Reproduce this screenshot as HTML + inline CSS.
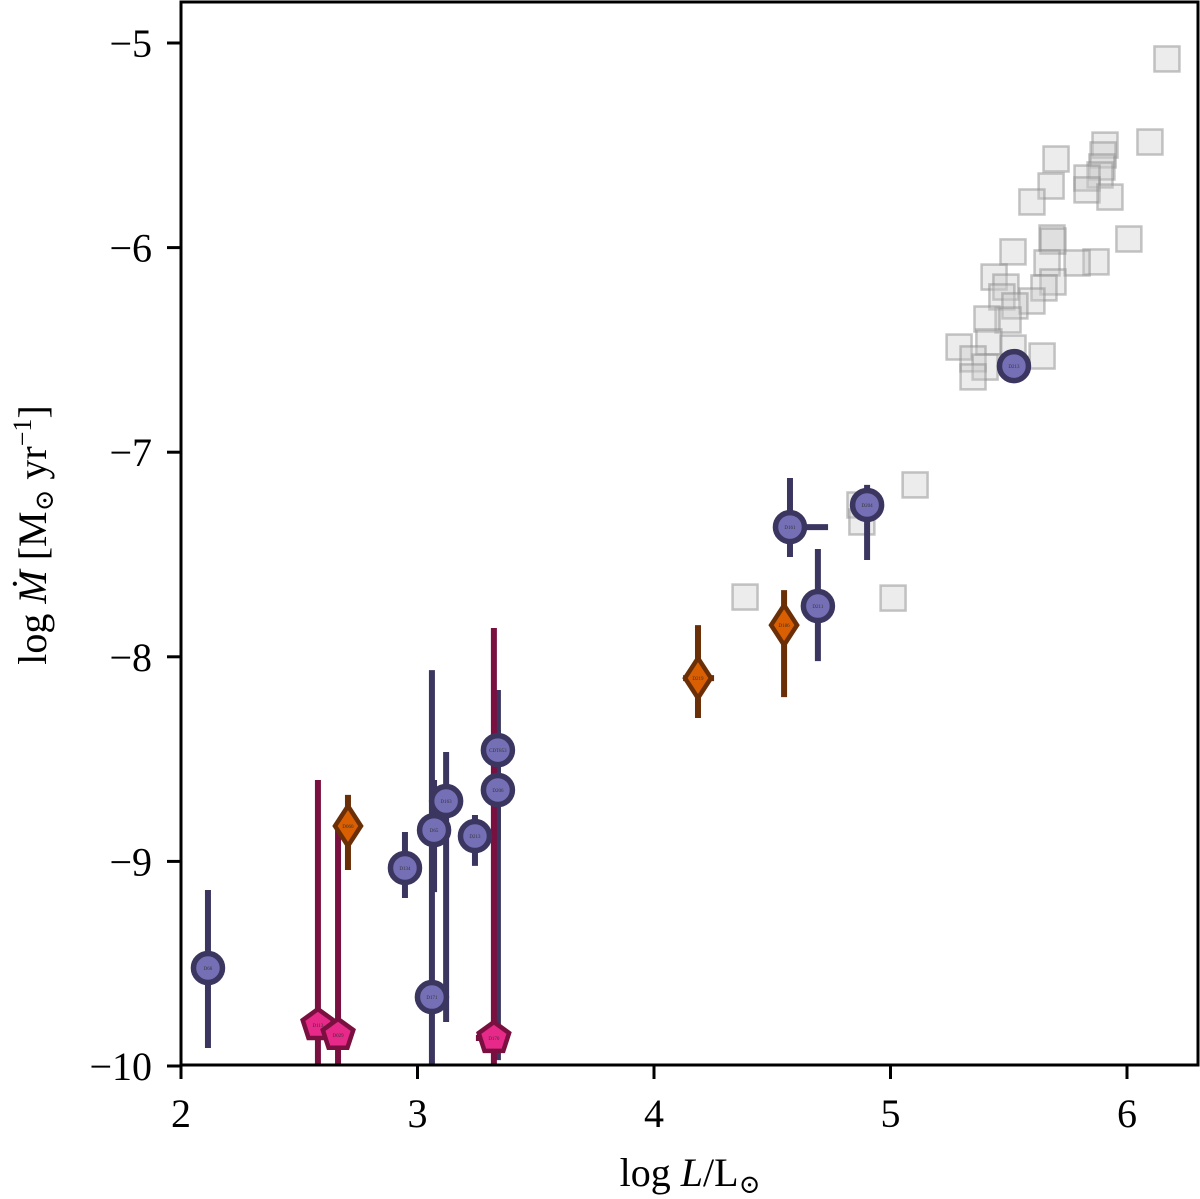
<!DOCTYPE html>
<html><head><meta charset="utf-8">
<style>
html,body{margin:0;padding:0;background:#fff;}
svg{display:block;}
text{font-family:"Liberation Serif","DejaVu Serif",serif;fill:#000;}
</style></head>
<body>
<svg id="chart" width="1200" height="1199" viewBox="0 0 1200 1199" xmlns="http://www.w3.org/2000/svg">
<g id="grid-bg"></g>
<g id="errs"></g>
<g id="marks"></g>
<rect x="181" y="2" width="1017" height="1063" fill="none" stroke="#000" stroke-width="3"/>
<g id="axes"></g>
<text x="690" y="1186" font-size="40" text-anchor="middle">log <tspan font-style="italic">L</tspan>/L<tspan font-size="26" dy="7">⊙</tspan></text>
<text transform="translate(46,535) rotate(-90)" font-size="40" text-anchor="middle">log <tspan font-style="italic">Ṁ</tspan> [M<tspan font-size="26" dy="7">⊙</tspan><tspan dy="-7"> yr</tspan><tspan font-size="26" dy="-15">−1</tspan><tspan dy="15">]</tspan></text>
</svg>
<script>
const xTicks=[2,3,4,5,6];
const yTicks=[-5,-6,-7,-8,-9,-10];
const grayX=[6.169,6.097,5.907,5.899,5.894,5.886,5.700,5.831,5.831,5.928,5.679,5.598,6.008,5.683,5.687,5.518,5.869,5.789,5.662,5.438,5.488,5.687,5.649,5.471,5.598,5.526,5.497,5.408,5.416,5.518,5.641,5.290,5.349,5.400,5.349,5.104,4.871,4.879,4.385,5.011];
const grayY=[-5.078,-5.484,-5.499,-5.547,-5.606,-5.645,-5.567,-5.660,-5.718,-5.753,-5.699,-5.777,-5.958,-5.953,-5.968,-6.021,-6.070,-6.075,-6.075,-6.144,-6.193,-6.168,-6.197,-6.241,-6.261,-6.285,-6.354,-6.349,-6.461,-6.491,-6.530,-6.486,-6.544,-6.584,-6.632,-7.160,-7.258,-7.341,-7.708,-7.713];
// circles
const circLabel=["D66","D134","D65","D163","D213","CDT853","D206","D171","D161","D204","D211","D213"];
const circX=[2.114,2.947,3.070,3.121,3.243,3.340,3.340,3.061,4.575,4.901,4.693,5.522];
const circY=[-9.521,-9.032,-8.847,-8.705,-8.876,-8.456,-8.651,-9.663,-7.366,-7.258,-7.752,-6.579];
const circYlo=[-9.912,-9.179,-9.150,-9.785,-9.022,-9.971,-8.895,-10.0,-7.512,-7.527,-8.021,-6.579];
const circYhi=[-9.140,-8.856,-8.602,-8.465,-8.773,-8.162,-8.358,-8.065,-7.126,-7.160,-7.473,-6.579];
const circXlo=[2.114,2.947,3.070,3.121,3.243,3.340,3.340,3.061,4.503,4.901,4.693,5.522];
const circXhi=[2.114,2.947,3.070,3.121,3.243,3.340,3.340,3.061,4.736,4.901,4.693,5.522];
// diamonds
const diaLabel=["D060","D219","D186"];
const diaX=[2.706,4.186,4.550];
const diaY=[-8.827,-8.104,-7.845];
const diaYlo=[-9.042,-8.299,-8.197];
const diaYhi=[-8.675,-7.845,-7.674];
const diaXlo=[2.706,4.123,4.550];
const diaXhi=[2.706,4.254,4.550];
// pentagons
const penLabel=["D113","D029","D170"];
const penX=[2.579,2.664,3.323];
const penY=[-9.800,-9.848,-9.863];
const penYlo=[-10.0,-10.0,-10.0];
const penYhi=[-8.602,-8.812,-7.859];
const penXlo=[2.579,2.664,3.247];
const penXhi=[2.579,2.706,3.370];

const X=v=>181+(v-2)*236.5;
const Y=v=>43+(-5-v)*204.6;
const NS="http://www.w3.org/2000/svg";
function mk(tag,parent,attrs){const e=document.createElementNS(NS,tag);for(const k in attrs)e.setAttribute(k,attrs[k]);parent.appendChild(e);return e;}
const axes=document.getElementById('axes');
xTicks.forEach(t=>{
  const l=mk('line',axes,{x1:X(t),x2:X(t),y1:1065,y2:1079,stroke:'#000','stroke-width':3});
  
  
  const tx=mk('text',axes,{x:X(t),y:1127,'font-size':40,'text-anchor':'middle'});
  
  
  tx.textContent=t;
});
yTicks.forEach(t=>{
  const l=mk('line',axes,{x1:167,x2:181,y1:Y(t),y2:Y(t),stroke:'#000','stroke-width':3});
  
  
  const tx=mk('text',axes,{x:152,y:Y(t)+14,'font-size':40,'text-anchor':'end'});
  
  
  tx.textContent='−'+Math.abs(t);
});
const gb=document.getElementById('grid-bg');
grayX.forEach((v,i)=>{
  const r=mk('rect',gb,{x:X(v)-12.5,y:Y(grayY[i])-12.5,width:25,height:25,fill:'rgba(200,200,200,0.35)',stroke:'rgba(140,140,140,0.5)','stroke-width':2.5});
  
  
});
const eg=document.getElementById('errs'), mg=document.getElementById('marks');
function err(x,y,xlo,xhi,ylo,yhi,col){
  if(ylo!==yhi){const l=mk('line',eg,{x1:X(x),x2:X(x),y1:Y(ylo),y2:Y(yhi),stroke:col,'stroke-width':6});
    
    }
  if(xlo!==xhi){const l=mk('line',eg,{x1:X(xlo),x2:X(xhi),y1:Y(y),y2:Y(y),stroke:col,'stroke-width':6});
    
    }
}
function lab(x,y,s){const t=mk('text',mg,{x:X(x),y:Y(y)+2,'font-size':5,'text-anchor':'middle',fill:'#333'});t.style.fill='#333';
  
  
  t.textContent=s;}
const dark='#3b3660';
circX.forEach((v,i)=>{
  err(v,circY[i],circXlo[i],circXhi[i],circYlo[i],circYhi[i],dark);
  const c=mk('circle',mg,{cx:X(v),cy:Y(circY[i]),r:14.5,fill:'#7570b6',stroke:dark,'stroke-width':5.5});
  
  
  lab(v,circY[i],circLabel[i]);
});
diaX.forEach((v,i)=>{
  err(v,diaY[i],diaXlo[i],diaXhi[i],diaYlo[i],diaYhi[i],'#6b2f08');
  const cx=X(v),cy=Y(diaY[i]);
  const p=mk('polygon',mg,{points:`${cx},${cy-20} ${cx+13},${cy} ${cx},${cy+20} ${cx-13},${cy}`,fill:'#d95f02',stroke:'#6b2f08','stroke-width':4.5});
  
  
  lab(v,diaY[i],diaLabel[i]);
});
penX.forEach((v,i)=>{
  err(v,penY[i],penXlo[i],penXhi[i],penYlo[i],penYhi[i],'#7a1040');
  const cx=X(v),cy=Y(penY[i]);let pts=[];
  for(let k=0;k<5;k++){const a=-Math.PI/2+k*2*Math.PI/5;pts.push((cx+16*Math.cos(a)).toFixed(1)+','+(cy+16*Math.sin(a)).toFixed(1));}
  const p=mk('polygon',mg,{points:pts.join(' '),fill:'#e7298a',stroke:'#7a1040','stroke-width':4.5});
  
  
  lab(v,penY[i],penLabel[i]);
});
</script>
</body></html>
